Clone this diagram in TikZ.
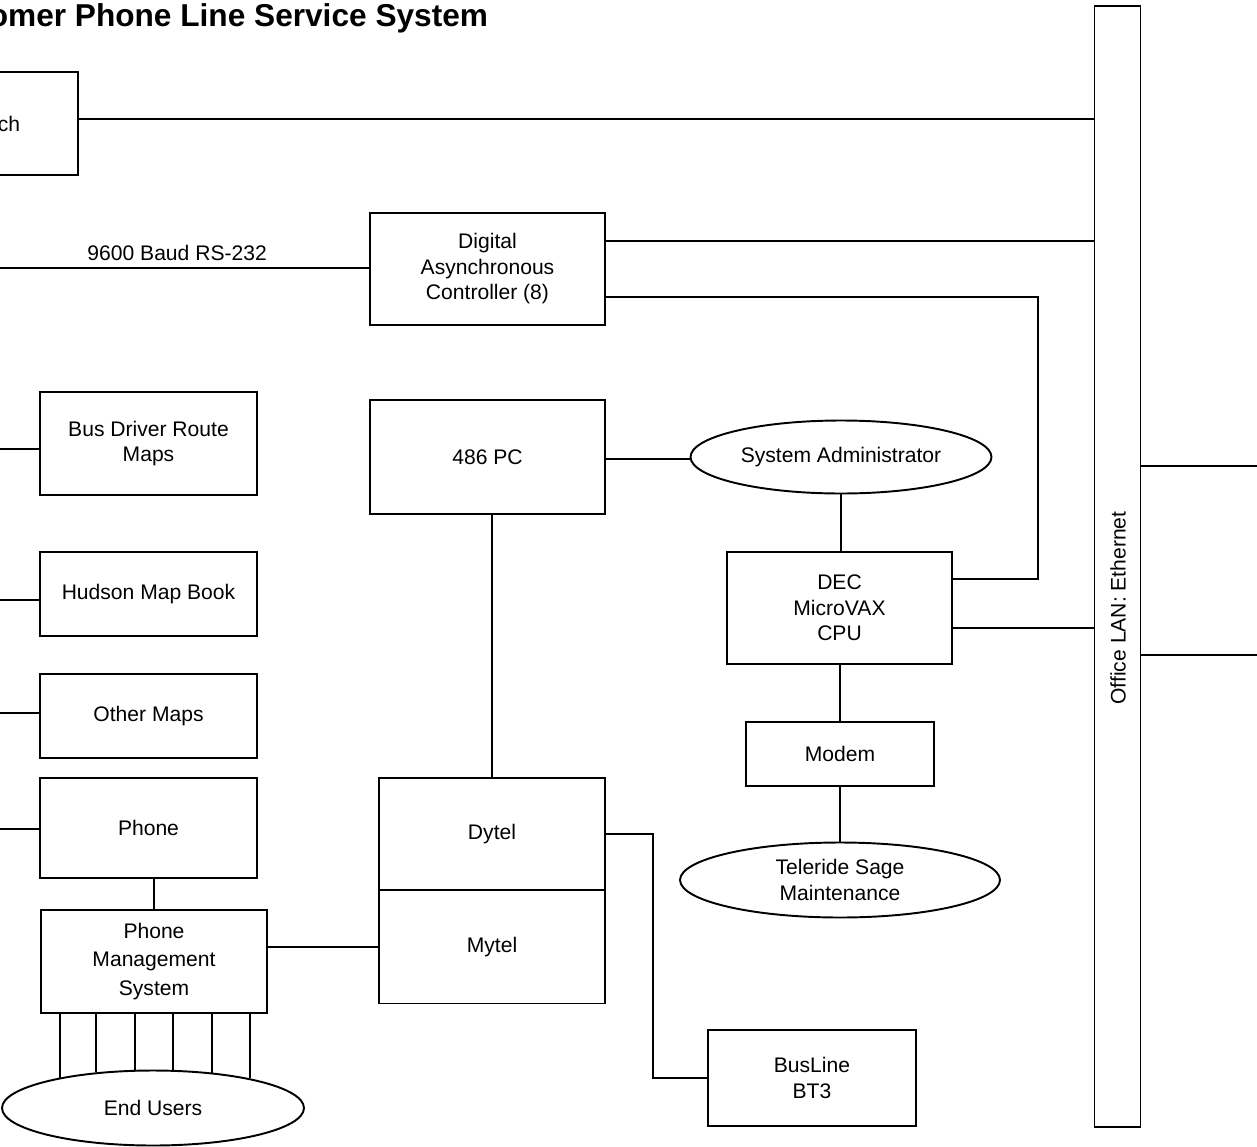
\documentclass[tikz,border=0pt]{standalone}
\usepackage{fontspec}
\setmainfont{Liberation Sans}
\usetikzlibrary{shapes.geometric}

\begin{document}
\begin{tikzpicture}[x=0.02cm, y=-0.02cm, line width=1.1pt,
  every node/.style={font=\fontsize{12}{14.5}\selectfont},
  unit/.style={draw, rectangle, align=center, inner sep=2pt},
  oval/.style={draw, ellipse, align=center, inner sep=0pt}]
  \useasboundingbox (0,0) rectangle (1257,1146);
  \clip (0,0) rectangle (1257,1146);

  \node[anchor=base east, inner sep=0pt, font=\bfseries\fontsize{18}{22}\selectfont] (title) at (489,27) {Customer Phone Line Service System};

  % boxes
  \node[unit, minimum width=3.56cm, minimum height=2.06cm] (switch) at (-11,123.5) {Switch};
  \node[unit, minimum width=4.7cm, minimum height=2.24cm] (dac) at (487.5,269) {Digital\\Asynchronous\\Controller (8)};
  \node[unit, minimum width=4.34cm, minimum height=2.06cm] (busmaps) at (148.5,443.5) {Bus Driver Route\\Maps};
  \node[unit, minimum width=4.34cm, minimum height=1.68cm] (hudson) at (148.5,594) {Hudson Map Book};
  \node[unit, minimum width=4.34cm, minimum height=1.68cm] (other) at (148.5,716) {Other Maps};
  \node[unit, minimum width=4.34cm, minimum height=2cm] (phone) at (148.5,828) {Phone};
  \node[unit, minimum width=4.52cm, minimum height=2.06cm, font=\fontsize{12}{16}\selectfont] (pms) at (154,961.5) {Phone\\Management\\System};
  \node[unit, minimum width=4.7cm, minimum height=2.28cm] (pc) at (487.5,457) {486 PC};
  \node[unit, minimum width=4.52cm, minimum height=2.24cm] (dytel) at (492,834) {Dytel};
  \node[unit, minimum width=4.52cm, minimum height=2.26cm] (mytel) at (492,947) {Mytel};
  \node[unit, minimum width=4.5cm, minimum height=2.24cm] (dec) at (839.5,608) {DEC\\MicroVAX\\CPU};
  \node[unit, minimum width=3.76cm, minimum height=1.28cm] (modem) at (840,754) {Modem};
  \node[unit, minimum width=4.16cm, minimum height=1.92cm] (busline) at (812,1078) {BusLine\\BT3};
  \node[draw, inner sep=0pt, minimum width=0.92cm, minimum height=22.42cm] (lan) at (1117.5,566.5) {};
  \node[rotate=90] (lanlabel) at (1118,608) {Office LAN: Ethernet};

  % ovals
  \node[oval, minimum width=6.02cm, minimum height=1.46cm] (admin) at (841,457) {System Administrator};
  \node[oval, minimum width=6.4cm, minimum height=1.5cm] (teleride) at (840,880) {Teleride Sage\\Maintenance};
  \node[oval, minimum width=6.04cm, minimum height=1.5cm] (users) at (153,1108) {End Users};

  % loose ends
  \coordinate (rsin) at (0,268);
  \coordinate (busin) at (0,449);
  \coordinate (hudin) at (0,600);
  \coordinate (othin) at (0,713);
  \coordinate (phin) at (0,829);
  \coordinate (outa) at (1257,466);
  \coordinate (outb) at (1257,655);
  \coordinate (bend) at (1038,297);

  % wiring
  \draw (switch.east |- 0,119) -- (lan.west |- 0,119);
  \draw (rsin) -- (dac.west |- rsin) node[above, pos=0.48] {9600 Baud RS-232};
  \draw (dac.east |- 0,241) -- (lan.west |- 0,241);
  \draw (dac.east |- bend) -- (bend) |- (dec.east |- 0,579);
  \draw (dec.east |- 0,628) -- (lan.west |- 0,628);
  \draw (lan.east |- outa) -- (outa);
  \draw (lan.east |- outb) -- (outb);
  \draw (busin) -- (busin -| busmaps.west);
  \draw (hudin) -- (hudin -| hudson.west);
  \draw (othin) -- (othin -| other.west);
  \draw (phin) -- (phin -| phone.west);
  \draw (pc.east |- 0,459) -- (admin.west |- 0,459);
  \draw (admin.south) -- (dec.north -| admin.south);
  \draw (dec.south -| modem.north) -- (modem.north);
  \draw (modem.south) -- (teleride.north);
  \draw (dytel.north |- pc.south) -- (dytel.north);
  \draw (dytel.east) -- ++(47,0) |- (busline.west);
  \draw (pms.north |- phone.south) -- (pms.north);
  \draw (pms.east |- mytel.west) -- (mytel.west);
  \foreach \a in {162.3,148.1,115.8,62.9,31.3,17.3}
    \draw (users.\a |- pms.south) -- (users.\a);
\end{tikzpicture}
\end{document}
